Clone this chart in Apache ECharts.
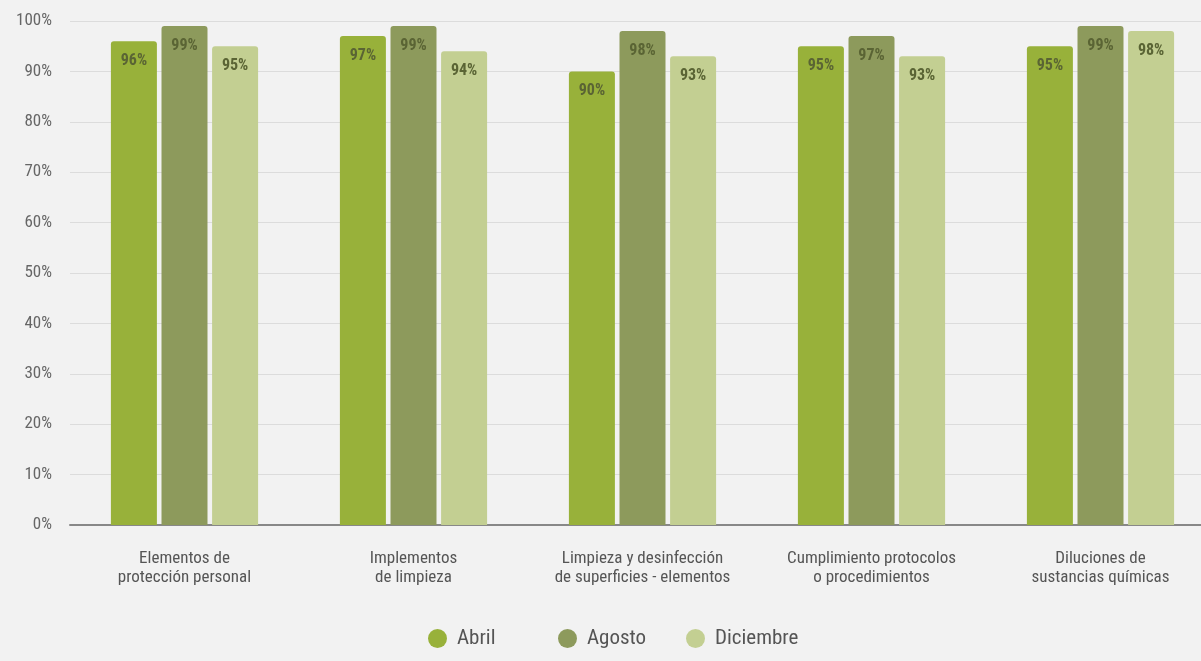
<!DOCTYPE html>
<html>
<head>
<meta charset="utf-8">
<style>
  html, body { margin: 0; padding: 0; background: #f2f2f2; }
  #root { width: 1201px; height: 661px; }
</style>
<script src="https://cdn.jsdelivr.net/npm/echarts@6/dist/echarts.min.js"></script>
</head>
<body>
<div id="root"></div>
<script>
const categories = [
  'Elementos de\nprotección personal',
  'Implementos\nde limpieza',
  'Limpieza y desinfección\nde superficies - elementos',
  'Cumplimiento protocolos\no procedimientos',
  'Diluciones de\nsustancias químicas'
];
const abril = [96, 97, 90, 95, 95];
const agosto = [99, 99, 98, 97, 99];
const diciembre = [95, 94, 93, 93, 98];
const seriesNames = ['Abril', 'Agosto', 'Diciembre'];

const font = '"Roboto Condensed", "Liberation Sans Narrow", Roboto, sans-serif';

function bar(name, data, color) {
  return {
    name: name,
    type: 'bar',
    data: data,
    barWidth: 46,
    barGap: '10%',
    itemStyle: { color: color, borderRadius: [3, 3, 0, 0] },
    label: {
      show: true,
      position: 'insideTop',
      distance: 12,
      formatter: '{c}%',
      color: '#5a6434',
      fontWeight: 'bold',
      fontSize: 16,
      fontFamily: font
    }
  };
}

// one legend per item so each sits where the original puts it
const legendLefts = [423, 553, 681];
const legends = seriesNames.map((n, i) => ({
  data: [n],
  top: 623,
  left: legendLefts[i],
  icon: 'circle',
  itemWidth: 19,
  itemHeight: 19,
  textStyle: { fontSize: 21, color: '#555', fontFamily: font, padding: [0, 0, 0, 5] }
}));

const chart = echarts.init(document.getElementById('root'));
chart.setOption({
  backgroundColor: '#f2f2f2',
  animation: false,
  textStyle: { fontFamily: font },
  grid: { left: 70, width: 1145, top: 21, bottom: 136, outerBoundsMode: 'none' },
  legend: legends,
  xAxis: {
    type: 'category',
    data: categories,
    axisLine: { lineStyle: { color: '#888', width: 2 } },
    axisTick: { show: false },
    axisLabel: { interval: 0, color: '#555', fontSize: 17, lineHeight: 19, margin: 24, fontFamily: font }
  },
  yAxis: {
    type: 'value',
    min: 0,
    max: 100,
    interval: 10,
    axisLabel: { formatter: '{value}%', color: '#666', fontSize: 17, margin: 18, fontFamily: font },
    splitLine: { lineStyle: { color: '#dcdcdc' } },
    axisLine: { show: false },
    axisTick: { show: false }
  },
  series: [
    bar('Abril', abril, '#98b13a'),
    bar('Agosto', agosto, '#8d9a5c'),
    bar('Diciembre', diciembre, '#c3cf92')
  ]
});
</script>
</body>
</html>
